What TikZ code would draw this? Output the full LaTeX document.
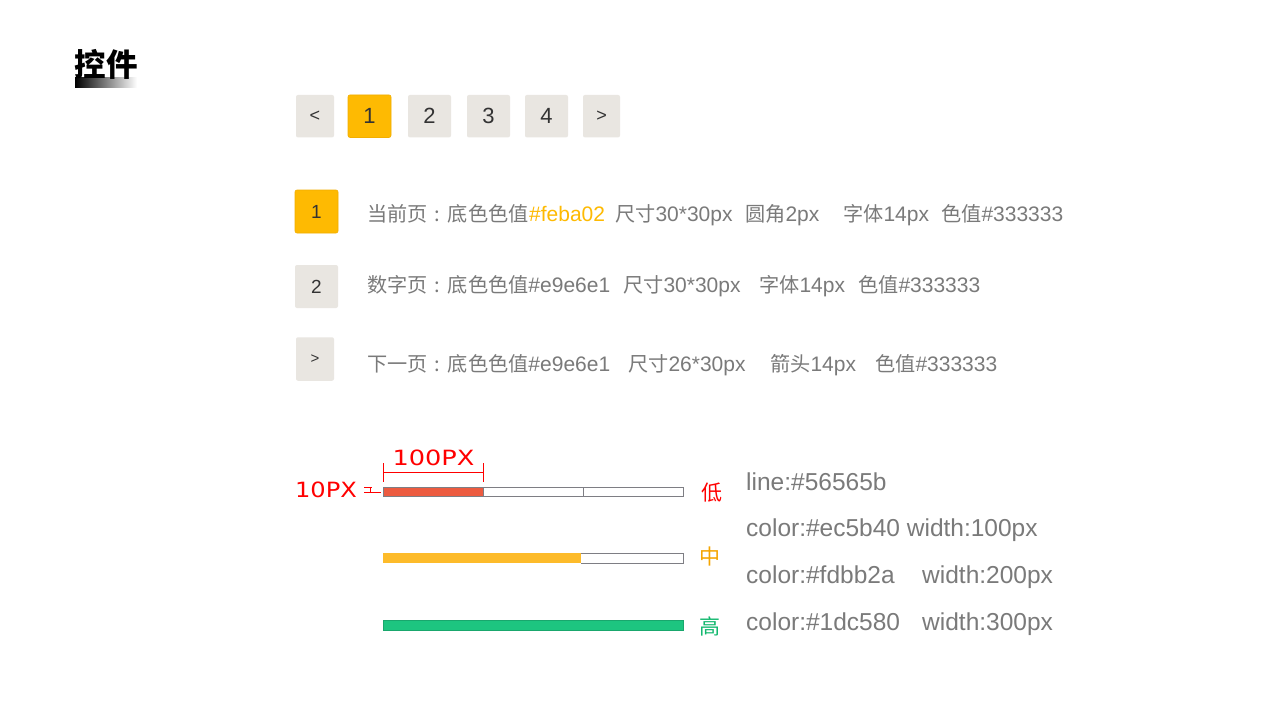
\documentclass[tikz,border=0pt]{standalone}
\usepackage{fontspec}
\usepackage{graphicx}
\setmainfont{Liberation Sans}
\newfontfamily\cjk{Noto Sans CJK SC}
\newfontfamily\cjkr[Scale=0.96]{Noto Sans CJK SC}
\newfontfamily\dimfont{DejaVu Sans}
\newcommand{\cjkcolon}{\makebox[1.0em]{:}}
\definecolor{boxgray}{HTML}{E9E6E1}
\definecolor{boxyel}{HTML}{FEBA02}
\definecolor{boxyelb}{HTML}{F2AE00}
\definecolor{txtgray}{HTML}{7A7A7A}
\definecolor{dark}{HTML}{333333}
\definecolor{linegray}{HTML}{7E7E84}
\definecolor{cred}{HTML}{EC5B40}
\definecolor{cyel}{HTML}{FDBB2A}
\definecolor{cgreen}{HTML}{1DC580}
\definecolor{lblred}{HTML}{FF0000}
\definecolor{lblorange}{HTML}{F5A500}
\definecolor{lblgreen}{HTML}{12B86E}
\definecolor{orangetxt}{HTML}{FEBA02}
\begin{document}
\begin{tikzpicture}[x=1pt,y=-1pt,
  graybox/.style={fill=boxgray,draw=none,rounded corners=2pt,inner sep=0pt,text=dark},
  yelbox/.style={fill=boxyel,draw=boxyelb,line width=0.6pt,rounded corners=2pt,inner sep=0pt,text=dark},
  pagefont/.style={font=\fontsize{22}{22}\selectfont},
  rowtxt/.style={anchor=base west,inner sep=0pt,text=txtgray,font=\fontsize{21}{25}\selectfont},
  righttxt/.style={anchor=base west,inner sep=0pt,text=txtgray,font=\fontsize{24.5}{28}\selectfont},
  barline/.style={draw=linegray,line width=0.9pt},
  dimline/.style={draw=lblred,line width=1pt},
  lvl/.style={inner sep=0pt,font=\cjk\fontsize{21}{21}\selectfont}]
\useasboundingbox[fill=white] (0,0) rectangle (1280,720);

% title
\shade[left color=black,right color=white] (75,77) rectangle (137,87);
\node[anchor=west,inner sep=0pt,font=\cjk\bfseries\fontsize{31.5}{31.5}\selectfont] (title) at (74.5,64) {控件};

% pagination
\node[graybox,minimum width=38pt,minimum height=42.5pt,font=\fontsize{18}{18}\selectfont] (prev) at (315,116.2) {<};
\node[yelbox,minimum width=43pt,minimum height=42.5pt,pagefont] (p1) at (369.5,116.2) {1};
\node[graybox,minimum width=43pt,minimum height=42.5pt,pagefont] (p2) at (429.5,116.2) {2};
\node[graybox,minimum width=43pt,minimum height=42.5pt,pagefont] (p3) at (488.5,116.2) {3};
\node[graybox,minimum width=43pt,minimum height=42.5pt,pagefont] (p4) at (546.5,116.2) {4};
\node[graybox,minimum width=37pt,minimum height=42.5pt,font=\fontsize{18}{18}\selectfont] (next) at (601.5,116.2) {>};

% row boxes
\node[yelbox,minimum width=43pt,minimum height=43pt,font=\fontsize{19}{19}\selectfont] (r1) at (316.5,211.5) {1};
\node[graybox,minimum width=43pt,minimum height=43pt,font=\fontsize{19}{19}\selectfont] (r2) at (316.5,286.5) {2};
\node[graybox,minimum width=38pt,minimum height=43.5pt,font=\fontsize{15}{15}\selectfont] (r3) at (315,359) {>};

% row 1 text
\node[rowtxt] (t1a) at (367,221) {\cjkr 当前页\cjkcolon 底色色值};
\node[rowtxt,text=orangetxt] (t1b) at (529,221) {\#feba02};
\node[rowtxt] (t1c) at (615,221) {{\cjkr 尺寸}30*30px};
\node[rowtxt] (t1d) at (745,221) {{\cjkr 圆角}2px};
\node[rowtxt] (t1e) at (843,221) {{\cjkr 字体}14px};
\node[rowtxt] (t1f) at (941,221) {{\cjkr 色值}\#333333};
% row 2 text
\node[rowtxt] (t2a) at (367,292) {{\cjkr 数字页\cjkcolon 底色色值}\#e9e6e1};
\node[rowtxt] (t2b) at (623,292) {{\cjkr 尺寸}30*30px};
\node[rowtxt] (t2c) at (759,292) {{\cjkr 字体}14px};
\node[rowtxt] (t2d) at (858,292) {{\cjkr 色值}\#333333};
% row 3 text
\node[rowtxt] (t3a) at (367,371.5) {{\cjkr 下一页\cjkcolon 底色色值}\#e9e6e1};
\node[rowtxt] (t3b) at (628,371.5) {{\cjkr 尺寸}26*30px};
\node[rowtxt] (t3c) at (770,371.5) {{\cjkr 箭头}14px};
\node[rowtxt] (t3d) at (875,371.5) {{\cjkr 色值}\#333333};

% progress bars
\fill[cred] (383,487) rectangle (483,496);
\draw[barline] (383,487) rectangle (683,496);
\draw[barline] (483,487) -- (483,496) (583,487) -- (583,496);
\fill[cyel] (383,553) rectangle (581,563);
\draw[barline] (581,553) -- (683,553) -- (683,563) -- (581,563);
\fill[cgreen] (383,620) rectangle (683,630);
\draw[draw=cgreen!85!black,line width=0.6pt] (383,620) rectangle (683,630);

% dimensions
\draw[dimline] (383,463) -- (383,482) (483,463) -- (483,482) (383,472) -- (483,472);
\node[inner sep=0pt,text=lblred,font=\dimfont\fontsize{21}{21}\selectfont] (w100) at (433.5,457.5) {\scalebox{1.22}[1]{100PX}};
\node[inner sep=0pt,text=lblred,font=\dimfont\fontsize{21}{21}\selectfont] (h10) at (326,490) {\scalebox{1.15}[1]{10PX}};
\draw[dimline,line width=0.8pt] (364,487.5) -- (372,487.5) (370,487.5) -- (370,492.5) (364,492.5) -- (381,492.5);

% level labels
\node[lvl,text=lblred] (low) at (711.5,493) {低};
\node[lvl,text=lblorange] (mid) at (710,556.5) {中};
\node[lvl,text=lblgreen] (high) at (710,626) {高};

% right texts
\node[righttxt] (c0) at (746,490) {line:\#56565b};
\node[righttxt] (c1) at (746,536) {color:\#ec5b40 width:100px};
\node[righttxt] (c2a) at (746,583) {color:\#fdbb2a};
\node[righttxt] (c2b) at (922,583) {width:200px};
\node[righttxt] (c3a) at (746,630) {color:\#1dc580};
\node[righttxt] (c3b) at (922,630) {width:300px};
\end{tikzpicture}
\end{document}
